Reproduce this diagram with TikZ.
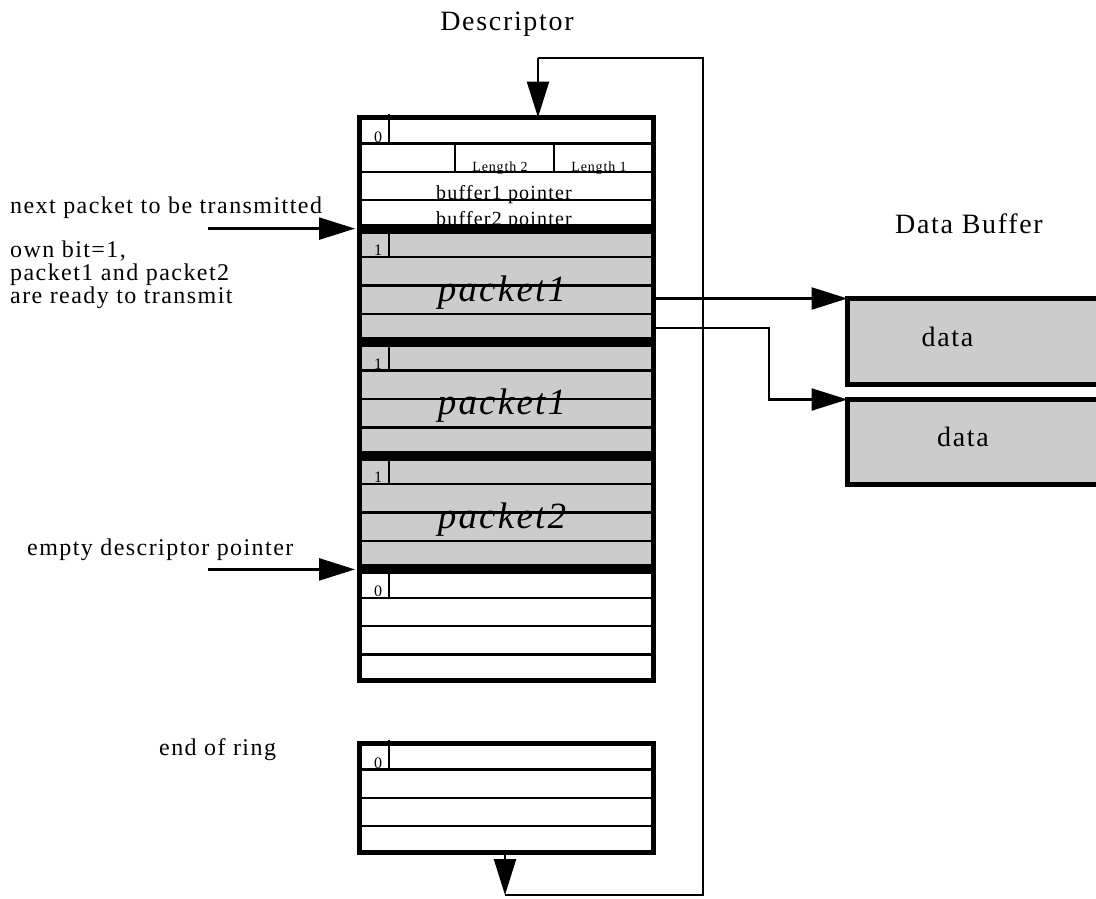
\documentclass[tikz,border=0pt]{standalone}
\usepackage{fontspec}
\setmainfont{Liberation Serif}[LetterSpace=6]
\usepackage{tikz}
\usetikzlibrary{arrows.meta,calc}

\begin{document}
\begin{tikzpicture}[x=1pt,y=-1pt]
            \tikzset{descbox/.style={draw,line width=5pt,minimum width=294pt,minimum height=108.6pt,inner sep=0pt,outer sep=0pt}}
            \tikzset{fullbox/.style={descbox,fill=black!20}}
            \tikzset{databox/.style={draw,line width=5pt,fill=black!20,minimum width=252.5pt,inner sep=0pt,outer sep=0pt}}
            \tikzset{rowline/.style={line width=2.4pt}}
            \tikzset{wire/.style={line width=2.4pt}}
            \tikzset{ptr/.style={line width=2.4pt,-{Triangle[length=36pt,width=22pt]}}}
            \tikzset{lbl/.style={inner sep=0pt,font=\fontsize{24}{23}\selectfont}}
            \tikzset{title/.style={inner sep=0pt,font=\fontsize{28}{28}\selectfont}}
            \tikzset{bitnum/.style={inner sep=0pt,font=\fontsize{16}{16}\selectfont}}
            \tikzset{fieldtxt/.style={inner sep=0pt,font=\fontsize{20}{20}\selectfont}}
            \tikzset{lentxt/.style={inner sep=0pt,font=\fontsize{14}{14}\selectfont}}
            \tikzset{pkttxt/.style={inner sep=0pt,font=\fontsize{37}{37}\selectfont\itshape}}
            % \tikzset{ptr/.append style={shorten >=1pt}}
            \useasboundingbox (0,0) rectangle (1096,898);
            \clip (0,0) rectangle (1096,898);

            % descriptor ring
            \foreach \k/\sty in {1/descbox,2/fullbox,3/fullbox,4/fullbox,5/descbox}
                \node[\sty] (d\k) at (506.5,{115+113.6*(\k-1)+56.8}) {};
            \node[descbox] (ring) at (506.5,797.8) {};

            % fields of the first descriptor
            \node[lentxt,anchor=base] at ($(d1.north west)+(140.5,53.5)$) {Length 2};
            \node[lentxt,anchor=base] at ($(d1.north west)+(239.5,53.5)$) {Length 1};
            \node[fieldtxt,anchor=base] at ($(d1.north west)+(144.5,81.5)$) {buffer1 pointer};
            \node[fieldtxt,anchor=base] at ($(d1.north west)+(144.5,108)$) {buffer2 pointer};
            \foreach \x in {95.5,194.5}
                \draw[rowline] ($(d1.north west)+(\x,25.9)$) -- ($(d1.north west)+(\x,54.3)$);

            \foreach \d/\p in {d2/packet1,d3/packet1,d4/packet2}
                \node[pkttxt,anchor=base] at ($(\d.north west)+(142.5,70)$) {\p};

            \foreach \d/\bit in {d1/0,d2/1,d3/1,d4/1,d5/0,ring/0} {
                \node[bitnum,anchor=base] at ($(\d.north west)+(18.5,24.5)$) {\bit};
                \draw[rowline] ($(\d.north west)+(29.5,-4)$) -- ($(\d.north west)+(29.5,27)$);
                \foreach \j in {1,2,3}
                    \draw[rowline] ($(\d.north west)+(-2.5,28.4*\j-2.5)$) -- ($(\d.north east)+(2.5,28.4*\j-2.5)$);
            }

            % data buffers
            \node[databox,minimum height=86pt] (data1) at (973.75,341.5) {};
            \node[databox,minimum height=85pt] (data2) at (973.75,442) {};
            \node[title,anchor=base] at (947.5,346.7) {data};
            \node[title,anchor=base] at (963,446.7) {data};

            % labels
            \node[title,anchor=base] (desctitle) at (507,30) {Descriptor};
            \node[title,anchor=base] (buftitle) at (969,233) {Data Buffer};
            \node[lbl,anchor=base west] (nextlbl) at (10,213) {next packet to be transmitted};
            \node[lbl,anchor=base west,align=left] (ownlbl) at (10,303) {own bit=1,\\packet1 and packet2\\are ready to transmit};
            \node[lbl,anchor=base west] (emptylbl) at (27,555) {empty descriptor pointer};
            \node[lbl,anchor=base west] (ringlbl) at (159,755) {end of ring};

            % pointers
            \coordinate (nextp) at (208,228.6);
            \coordinate (emptyp) at (208,569.4);
            \draw[ptr,shorten >=4.5pt] (nextp) -- (nextp -| d2.west);
            \draw[ptr,shorten >=4.5pt] (emptyp) -- (emptyp -| d5.west);

            \coordinate (bend) at (769,0);
            \draw[ptr] (d2.east |- data1.north west) -- (data1.north west);
            \draw[ptr] ($(d2.east)+(0,42.5)$) -| (bend |- data2.north west) -- (data2.north west);

            % back to the start of the ring
            \coordinate (loopA) at (505,895);
            \coordinate (loopB) at (703,895);
            \coordinate (loopC) at (703,58);
            \coordinate (loopD) at (538,58);
            \draw[ptr] (ring.south -| loopA) -- (loopA);
            \draw[wire] (loopA) -- (loopB) -- (loopC) -- (loopD);
            \draw[ptr] (loopD) -- (loopD |- d1.north);
\end{tikzpicture}
\end{document}
